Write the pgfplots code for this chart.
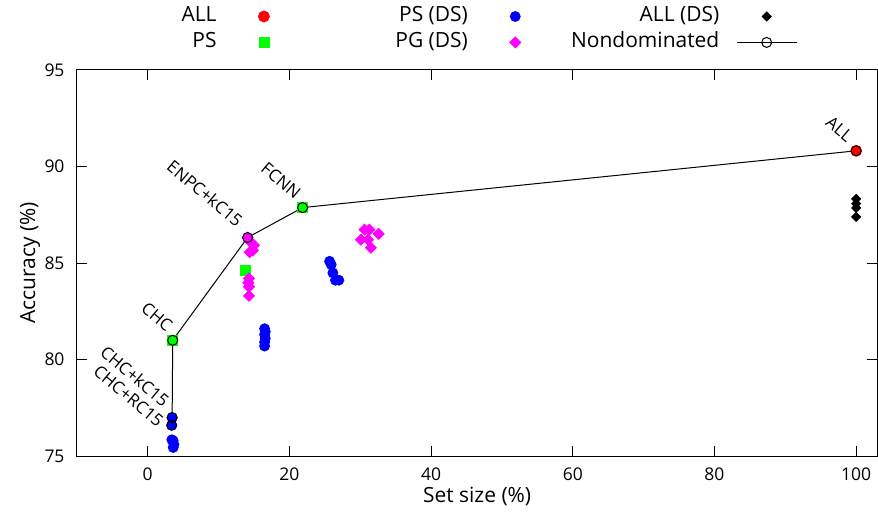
\documentclass[border=0pt]{standalone}
\usepackage{fontspec}
\setmainfont{Open Sans}
\usepackage{pgfplots}
\pgfplotsset{compat=1.18}
\definecolor{gpred}{RGB}{255,0,0}
\definecolor{gpgreen}{RGB}{0,255,0}
\definecolor{gpblue}{RGB}{0,0,255}
\definecolor{gpmag}{RGB}{255,0,255}
% legend sample 30pt wide, mark in the middle (also for only marks)
\pgfplotsset{wide legend/.style={legend image code/.code={%
  \draw[mark repeat=2, mark phase=2, ##1] plot coordinates {(0pt,0pt) (15pt,0pt) (30pt,0pt)};
  \path (0pt,0pt) (30pt,0pt);}}}

\begin{document}
\begin{tikzpicture}
\begin{axis}[
  scale only axis, width=401pt, height=193.5pt,
  xmin=-10, xmax=103, ymin=75, ymax=95,
  xtick={0,20,...,100}, ytick={75,80,...,95},
  tick align=inside, major tick length=5pt,
  tick style={black, line width=0.5pt},
  axis line style={line width=0.6pt},
  /pgf/number format/assume math mode=true,
  tick label style={font=\fontsize{8.75}{10}\selectfont},
  xticklabel style={inner sep=0pt, yshift=-5.5pt},
  yticklabel style={inner sep=0pt, xshift=-6pt},
  xlabel={Set size (\%)}, ylabel={Accuracy (\%)},
  label style={font=\fontsize{10.5}{12}\selectfont},
  xlabel style={at={(axis description cs:0.5,-0.1034)}, anchor=center},
  ylabel style={at={(axis description cs:-0.0586,0.5)}, anchor=center},
  legend columns=3,
  legend cell align=right,
  legend plot pos=right,
  legend style={at={(0,1)}, anchor=south west, xshift=-5pt, yshift=8.75pt,
    draw=none, fill=none, inner sep=0pt, outer sep=0pt,
    font=\fontsize{10.5}{12}\selectfont,
    nodes={inner sep=0pt, text height=7.5pt, text depth=2.5pt},
    row sep=3pt,
    /tikz/every odd column/.append style={column sep=8.5pt},
    /tikz/every even column/.append style={column sep=12pt}},
  wide legend,
]
\coordinate (bl) at (rel axis cs:0,0);
\coordinate (tr) at (rel axis cs:1,1);

% ALL
\addplot[only marks, wide legend, mark=*, mark size=2.75pt, color=gpred]
  coordinates {(100,90.81)};
\addlegendentry{\makebox[75pt][r]{ALL}}

% PS (DS)
\addplot[only marks, wide legend, mark=*, mark size=2.5pt, color=gpblue]
  coordinates {
  (3.45,77.0) (3.39,76.6)
  (3.4,75.85) (3.6,75.8) (3.7,75.6) (3.6,75.45)
  (16.5,81.6) (16.6,81.45) (16.5,81.3) (16.6,81.1) (16.5,80.9) (16.5,80.7)
  (25.67,85.09) (25.9,84.92) (26.14,84.49) (26.5,84.11) (26.98,84.11)
};
\addlegendentry{\makebox[75pt][r]{PS (DS)}}

% ALL (DS)
\addplot[only marks, wide legend, mark=square*, mark size=1.6pt, mark options={rotate=45}, color=black]
  coordinates {
  (100,88.32) (100,88.07) (100,87.85) (100,87.39)
};
\addlegendentry{\makebox[75pt][r]{ALL (DS)}}

% PS
\addplot[only marks, wide legend, mark=square*, mark size=2.5pt, color=gpgreen]
  coordinates {
  (3.53,81.0) (21.86,87.87) (13.8,84.61)
};
\addlegendentry{\makebox[75pt][r]{PS}}

% PG (DS)
\addplot[only marks, wide legend, mark=square*, mark size=1.95pt, mark options={rotate=45}, color=gpmag]
  coordinates {
  (14.1,86.32) (14.4,86.13) (15.0,85.92) (14.85,85.65) (14.4,85.56)
  (14.3,84.2) (14.2,83.98) (14.3,83.77) (14.3,83.3)
  (30.6,86.73) (31.3,86.73) (32.6,86.51) (30.1,86.21) (31.1,86.21) (31.5,85.79)
};
\addlegendentry{\makebox[75pt][r]{PG (DS)}}

% Nondominated
\addplot[black, line width=0.5pt, mark=o, mark size=2.5pt, mark options={solid, line width=0.5pt}] coordinates {
  (3.39,76.6) (3.45,77.0) (3.53,81.0) (14.1,86.32) (21.86,87.87) (100,90.81)
};
\addlegendentry{\makebox[75pt][r]{Nondominated}}

\begin{scope}[every node/.style={rotate=-40, anchor=east, inner sep=0pt, font=\fontsize{8.5}{10}\selectfont}]
\node at (axis cs:99.2,91.45) {ALL};
\node at (axis cs:21.3,88.5) {FCNN};
\node at (axis cs:13.1,87.05) {ENPC+kC15};
\node at (axis cs:3.2,81.65) {CHC};
\node at (axis cs:2.7,77.75) {CHC+kC15};
\node at (axis cs:1.9,76.7) {CHC+RC15};
\end{scope}
\end{axis}
\path ([shift={(-38.5pt,-29.5pt)}]bl) rectangle ([shift={(0pt,35pt)}]tr);
\end{tikzpicture}
\end{document}
